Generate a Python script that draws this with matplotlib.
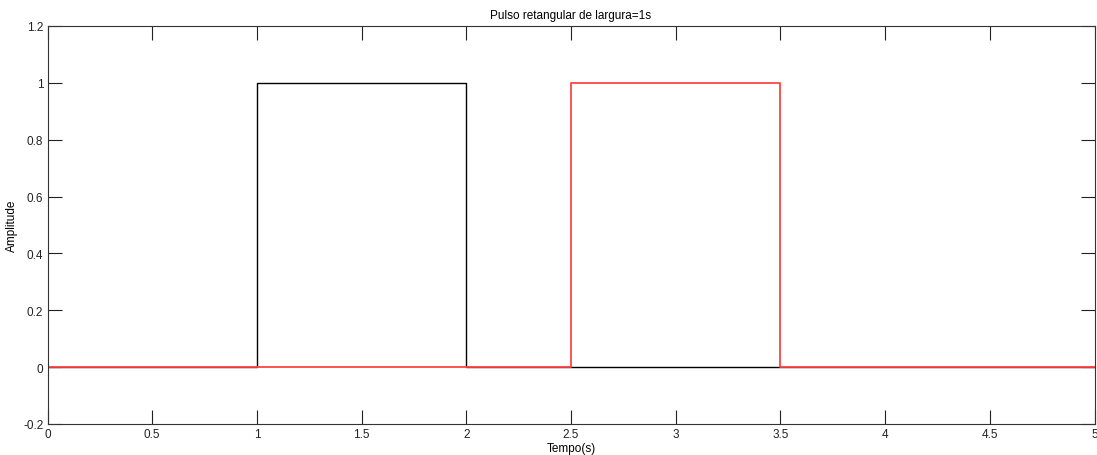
import numpy as np
import matplotlib.pyplot as plt

# two rectangular pulses, width 1 s
t = [0, 1, 1, 2, 2, 5]
x1 = [0, 0, 1, 1, 0, 0]
t2 = [0, 2.5, 2.5, 3.5, 3.5, 5]
x2 = [0, 0, 1, 1, 0, 0]

xticks = [0, 0.5, 1, 1.5, 2, 2.5, 3, 3.5, 4, 4.5, 5]
yticks = [-0.2, 0, 0.2, 0.4, 0.6, 0.8, 1, 1.2]

plt.rcParams['font.family'] = ['Liberation Sans', 'DejaVu Sans']

fig = plt.figure(figsize=(10.97, 4.56), dpi=100)
ax = fig.add_axes([0.0433, 0.068, 0.9545, 0.8728])

ax.plot(t, x1, color='black', lw=1)
ax.plot(t2, x2, color='#ff4444', lw=1.3)

ax.set_xlim(0, 5)
ax.set_ylim(-0.2, 1.2)
ax.set_xticks(xticks)
ax.set_xticklabels([f"{v:g}" for v in xticks])
ax.set_yticks(yticks)
ax.set_yticklabels([f"{v:g}" for v in yticks])
ax.tick_params(direction='in', length=10, width=0.8, top=True, right=True,
               labelsize=8.5, pad=3, colors='#222222')
for s in ax.spines.values():
    s.set_color('#333333')
    s.set_linewidth(0.8)

ax.set_title("Pulso retangular de largura=1s", fontsize=8.5, pad=6)
ax.set_xlabel("Tempo(s)", fontsize=8.5, labelpad=1)
ax.set_ylabel("Amplitude", fontsize=8.5, labelpad=4)

fig.savefig("out.png", dpi=100)
